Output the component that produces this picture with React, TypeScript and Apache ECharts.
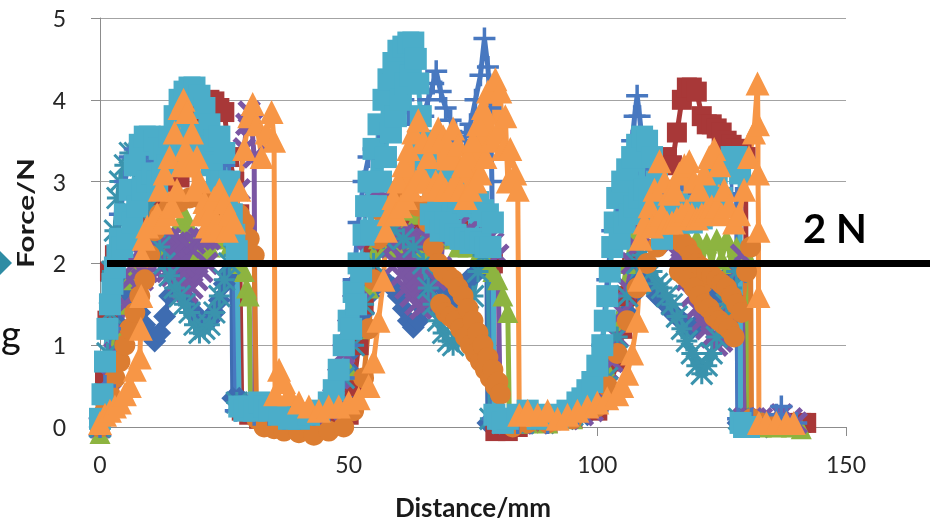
import React, { useEffect, useRef } from "react";
import * as echarts from "echarts";

// ---- axis ticks ----
const X_MIN = 0;
const X_MAX = 150;
const X_STEP = 50;
const Y_MIN = 0;
const Y_MAX = 5;
const Y_STEP = 1;
const REF_FORCE = 2; // the thick reference line "2 N"

// ---- series data: [distance mm, force N] (noisy traces) ----
const blueDiamond: number[][] = [
  [0,0],[1,0.3],[2,0.8],[3,1.3],[4,1.6],[5,1.8],[6,1.75],[7,1.55],[8,1.4],[9,1.25],[10,1.15],[11,1.05],[12,1.15],[13,1.35],[14,1.6],[15,1.8],[16,1.75],[17,1.6],[18,1.5],[19,1.4],[20,1.3],[21,1.25],[22,1.3],[23,1.4],[24,1.55],[25,1.75],[26,1.9],[26.5,1.9],[26.7,0.35],[28,0.35],[29,0.3],[30,0.2],[32,0.15],[35,0.1],[38,0.1],[41,0.1],[44,0.15],[47,0.2],[49,0.4],[50,0.7],[51,0.95],[52,1.2],[53,1.4],[54,1.6],[55,1.7],[56,1.8],[57,1.8],[58,1.75],[59,1.7],[60,1.6],[61,1.45],[62,1.3],[63,1.22],[64,1.3],[65,1.45],[66,1.6],[67,1.75],[68,1.8],[69,1.7],[70,1.6],[71,1.55],[72,1.6],[73,1.7],[74,1.8],[75,1.85],[76,1.9],[77,1.95],[77.8,1.95],[78,0.05],[80,0.0],[83,0.05],[87,0.05],[91,0.05],[95,0.1],[98,0.15],[100,0.25],[101,0.4],[102,0.6],[103,0.8],[104,1.0],[105,1.2],[106,1.4],[107,1.6],[108,1.75],[109,1.8],[110,1.75],[111,1.7],[112,1.6],[113,1.55],[114,1.5],[115,1.4],[116,1.35],[117,1.3],[118,1.25],[119,1.2],[120,1.25],[121,1.3],[122,1.4],[123,1.5],[124,1.6],[125,1.7],[126,1.8],[127,1.9],[128,1.9],[128.3,0.05],[130,0.05],[132,0.05],[134,0.0]
];

const redSquare: number[][] = [
  [0,0],[1,0.6],[1.5,1.3],[2,1.9],[3,2.1],[5,2.3],[7,2.5],[9,2.6],[11,2.8],[13,3.0],[15,3.1],[16,3.05],[17,3.2],[18,3.5],[19,3.7],[20,3.85],[21,3.95],[22,4.0],[23,3.98],[24,3.9],[25,3.85],[26,3.3],[27,3.0],[28,2.6],[28.5,0.2],[30,0.15],[32,0.1],[35,0.05],[38,0.05],[41,0.05],[44,0.1],[47,0.1],[50,0.15],[51,0.5],[52,1.0],[53,1.5],[54,1.9],[55,2.2],[56,2.35],[58,2.4],[60,2.45],[62,2.4],[64,2.35],[66,2.3],[68,2.4],[70,2.35],[72,2.4],[74,2.3],[76,2.2],[78,2.1],[79,2.0],[79.5,-0.05],[82,-0.05],[84,0.0],[86,0.05],[90,0.05],[95,0.1],[100,0.2],[102,0.4],[104,0.8],[105,1.2],[106,1.6],[107,2.0],[108,2.3],[109,2.5],[110,2.6],[112,2.7],[113,2.9],[114,3.3],[115,3.2],[116,3.6],[117,4.0],[118,4.15],[119,4.15],[120,4.1],[121,3.8],[122,3.7],[123,3.7],[124,3.65],[125,3.6],[126,3.5],[127,3.45],[128,3.4],[129,3.4],[129.8,3.3],[130,0.1],[132,0.05],[135,0.05],[138,0.05],[141,0.05],[142,0.05]
];

const greenTriangle: number[][] = [
  [0,-0.08],[1,0.3],[2,0.8],[3,1.2],[4,1.5],[6,1.8],[8,2.0],[10,2.1],[12,2.2],[14,2.3],[16,2.5],[17,2.6],[18,2.45],[19,2.3],[20,2.15],[21,2.1],[22,2.2],[23,2.3],[24,2.4],[25,2.3],[26,2.2],[27,2.1],[28,2.0],[29,1.9],[29.5,1.7],[30,1.6],[30.3,0.2],[32,0.15],[35,0.1],[40,0.05],[45,0.1],[48,0.3],[50,0.7],[52,1.2],[54,1.7],[55,2.1],[56,2.3],[57,2.4],[57.5,2.2],[58,2.5],[59,2.25],[60,2.55],[61,2.3],[62,2.65],[63,2.3],[64,2.6],[65,2.2],[66,2.4],[67,2.15],[68,2.3],[70,2.3],[72,2.2],[74,2.2],[76,2.1],[78,2.0],[79,1.9],[80,1.8],[81,1.6],[82,1.4],[82.3,0.1],[84,0.05],[86,0.05],[90,0.05],[95,0.1],[100,0.3],[102,0.7],[104,1.3],[106,2.0],[107,2.4],[108,2.6],[109,2.7],[110,2.6],[112,2.5],[114,2.4],[116,2.35],[117,2.05],[118,2.3],[119,2.05],[120,2.3],[121,2.0],[122,2.25],[123,2.0],[124,2.3],[125,2.05],[126,2.3],[127,2.0],[128,2.2],[130,2.1],[130.5,0.0],[133,0.0],[136,0.0],[139,0.0],[141,-0.02]
];

const purpleX: number[][] = [
  [0,0],[1,0.3],[2,0.6],[3,0.9],[4,1.2],[5,1.5],[6,1.8],[7,2.0],[8,2.15],[8.5,1.8],[9,2.25],[9.5,1.9],[10,2.3],[10.5,1.95],[11,2.3],[11.5,2.0],[12,2.3],[12.5,1.95],[13,2.3],[13.5,1.9],[14,2.3],[14.5,1.85],[15,2.25],[15.5,1.8],[16,2.25],[16.5,1.7],[17,2.25],[17.5,1.65],[18,2.2],[18.5,1.7],[19,2.25],[19.5,1.8],[20,2.3],[20.5,1.9],[21,2.3],[21.5,2.0],[22,2.3],[23,2.4],[24,2.45],[25,2.5],[26,2.4],[27,2.5],[28,2.9],[29,3.4],[29.5,3.7],[30,3.85],[30.5,3.7],[31,3.3],[31.2,0.2],[32,0.15],[34,0.1],[37,0.1],[40,0.1],[43,0.15],[46,0.2],[47,0.35],[48,0.6],[49,0.9],[50,1.2],[51,1.5],[52,1.7],[53,1.9],[54,2.3],[55,2.7],[56,2.9],[57,2.8],[58,2.6],[58.5,2.2],[59,2.4],[59.5,2.0],[60,2.35],[60.5,1.85],[61,2.35],[61.5,1.7],[62,2.3],[62.5,1.6],[63,2.3],[63.5,1.5],[64,2.25],[64.5,1.45],[65,2.25],[65.5,1.5],[66,2.3],[66.5,1.65],[67,2.3],[67.5,1.8],[68,2.35],[68.5,1.95],[69,2.35],[70,2.35],[72,2.45],[74,2.4],[76,2.35],[78,2.3],[79,2.25],[80,2.1],[80.5,0.1],[82,0.05],[85,0.05],[88,0.05],[91,0.1],[94,0.1],[97,0.15],[99,0.2],[100,0.3],[101,0.4],[102,0.5],[103,0.8],[104,1.1],[105,1.4],[106,1.7],[107,2.0],[108,2.2],[109,2.35],[110,2.5],[111,2.6],[112,2.55],[113,2.5],[114,2.4],[115,2.25],[116,2.1],[117,2.0],[118,1.8],[119,1.6],[120,1.45],[121,1.3],[122,1.2],[123,1.1],[124,1.0],[125,1.05],[126,1.2],[127,1.5],[128,1.9],[129,2.1],[129.5,0.1],[131,0.1],[133,0.1],[135,0.1],[137,0.15],[139,0.1],[140,0.05]
];

const tealStar: number[][] = [
  [0,0],[1,0.4],[1.5,0.9],[2,1.4],[2.5,1.9],[3,2.4],[3.5,2.8],[4,3.0],[5,3.2],[6,3.35],[7,3.35],[8,3.2],[9,3.0],[10,2.7],[11,2.45],[12,2.2],[13,2.0],[14,1.85],[15,1.7],[16,1.6],[17,1.5],[18,1.4],[19,1.25],[20,1.15],[21,1.2],[22,1.25],[23,1.4],[24,1.6],[25,1.8],[26,2.0],[27,2.1],[27.5,0.3],[29,0.25],[31,0.2],[33,0.2],[36,0.15],[40,0.15],[44,0.2],[47,0.3],[49,0.6],[51,1.0],[53,1.5],[55,2.0],[57,2.3],[59,2.4],[61,2.3],[63,2.2],[65,2.0],[66,1.7],[67,1.5],[68,1.3],[69,1.15],[70,1.05],[71,1.0],[72,1.05],[73,1.15],[74,1.35],[75,1.6],[76,1.9],[77,2.1],[78,2.2],[78.5,0.1],[81,0.05],[85,0.05],[90,0.1],[95,0.15],[100,0.3],[102,0.6],[104,1.1],[106,1.6],[108,2.0],[109,2.1],[110,2.0],[111,1.9],[112,1.75],[113,1.7],[114,1.6],[115,1.5],[116,1.35],[117,1.2],[118,1.05],[119,0.9],[120,0.75],[121,0.65],[122,0.75],[123,0.9],[124,1.1],[125,1.3],[126,1.5],[127,1.7],[128,1.9],[128.5,0.1],[131,0.05],[134,0.05]
];

const orangeCircle: number[][] = [
  [0,0],[1,0.2],[2,0.4],[3,0.6],[4,0.8],[5,1.0],[6,1.2],[7,1.4],[8,1.6],[9,1.8],[10,2.1],[11,2.4],[12,2.6],[14,2.7],[16,2.75],[18,2.8],[20,2.8],[22,2.75],[24,2.7],[26,2.65],[28,2.6],[29,2.5],[30,2.3],[31,2.1],[31.5,0.1],[33,0.0],[35,-0.02],[37,-0.05],[40,-0.07],[43,-0.1],[46,-0.05],[49,0.0],[51,0.2],[53,0.6],[54,1.2],[55,1.8],[56,2.3],[57,2.6],[58,2.7],[60,2.75],[62,2.8],[64,2.7],[66,2.5],[67,2.2],[68,2.0],[68.5,1.5],[69,1.9],[69.5,1.4],[70,1.85],[70.5,1.35],[71,1.8],[71.5,1.3],[72,1.7],[72.5,1.2],[73,1.6],[73.5,1.1],[74,1.45],[74.5,1.0],[75,1.3],[75.5,0.9],[76,1.15],[76.5,0.8],[77,1.0],[77.5,0.7],[78,0.85],[78.5,0.6],[79,0.7],[79.5,0.5],[80,0.55],[80.5,0.4],[81,0.1],[83,0.0],[86,0.05],[90,0.05],[95,0.1],[100,0.25],[102,0.5],[104,0.9],[106,1.3],[108,1.7],[110,2.0],[112,2.2],[114,2.3],[116,2.3],[116.5,1.9],[117,2.25],[117.5,1.85],[118,2.2],[118.5,1.8],[119,2.1],[119.5,1.7],[120,2.0],[120.5,1.6],[121,1.95],[121.5,1.5],[122,1.9],[122.5,1.45],[123,1.85],[123.5,1.35],[124,1.8],[124.5,1.3],[125,1.75],[125.5,1.25],[126,1.7],[126.5,1.2],[127,1.6],[127.5,1.1],[128,1.5],[129,1.4],[130,1.9],[130.8,2.2],[131,0.1],[133,0.05],[136,0.05]
];

const bluePlus: number[][] = [
  [0,0],[1,0.5],[2,1.2],[3,2.0],[4,2.6],[5,3.0],[6,3.3],[7,3.4],[8,3.45],[9,3.4],[10,3.3],[11,3.25],[12,3.2],[13,3.2],[14,3.3],[15,3.4],[16,3.5],[17,3.6],[18,3.6],[19,3.55],[20,3.5],[21,3.45],[22,3.4],[23,3.35],[24,3.3],[25,3.2],[26,3.1],[27,2.8],[27.3,0.2],[29,0.2],[31,0.15],[34,0.15],[37,0.1],[40,0.1],[43,0.15],[46,0.2],[48,0.3],[49,0.6],[50,1.0],[51,1.8],[52,2.5],[53,3.0],[54,3.3],[55,3.4],[56,3.5],[57,3.6],[58,3.7],[59,3.8],[60,3.9],[61,4.0],[62,3.85],[63,3.7],[64,3.6],[65,3.8],[66,4.0],[67,4.2],[67.6,4.35],[68.5,4.1],[69.5,3.9],[70.5,3.75],[71.5,3.6],[72.5,3.5],[73.5,3.55],[74.5,3.7],[75.5,4.0],[76.5,4.3],[77.3,4.75],[78,4.4],[78.5,3.9],[78.8,3.0],[79,0.1],[81,0.05],[84,0.05],[87,0.1],[90,0.05],[93,0.1],[96,0.15],[98,0.2],[100,0.3],[101,1.0],[102,1.8],[103,2.4],[104,2.6],[105,2.8],[106,3.1],[107,3.5],[107.5,3.8],[108,4.05],[108.5,3.8],[109,3.5],[110,3.2],[111,3.0],[112,2.9],[113,2.85],[115,2.8],[117,2.85],[119,2.8],[121,2.85],[123,2.9],[125,2.9],[127,2.85],[128,2.8],[128.3,0.1],[131,0.1],[134,0.05],[136,0.15],[137,0.25],[138,0.1],[140,0.05]
];

const cyanSquare: number[][] = [
  [0,0.1],[0.5,0.4],[1,0.8],[1.5,1.2],[2,1.5],[2.5,1.75],[3,1.95],[3.5,2.1],[4,2.3],[4.5,2.2],[5,2.6],[5.5,2.3],[6,2.9],[6.5,2.5],[7,3.2],[7.5,2.7],[8,3.45],[8.5,2.9],[9,3.55],[9.5,3.0],[10,3.55],[10.5,3.1],[11,3.5],[11.5,3.0],[12,3.4],[12.5,3.1],[13,3.35],[13.5,3.2],[14,3.55],[14.5,3.2],[15,3.8],[15.5,3.3],[16,4.0],[16.5,3.4],[17,4.1],[17.5,3.5],[18,4.15],[18.5,3.6],[19,4.15],[19.5,3.5],[20,4.05],[20.5,3.4],[21,3.9],[21.5,3.3],[22,3.7],[22.5,3.2],[23,3.5],[23.5,3.0],[24,3.55],[24.5,3.0],[25,3.35],[25.5,2.8],[26,3.0],[26.5,2.6],[27,2.35],[27.5,2.15],[28,0.25],[29,0.2],[30,0.25],[31,0.2],[32,0.3],[33,0.25],[34,0.2],[36,0.15],[38,0.1],[40,0.1],[42,0.15],[44,0.2],[46,0.3],[47,0.45],[48,0.7],[49,1.0],[50,1.3],[50.5,1.2],[51,1.65],[51.5,1.5],[52,2.0],[52.5,1.9],[53,2.35],[53.5,2.7],[54,3.0],[54.5,2.4],[55,3.4],[55.5,2.7],[56,3.7],[56.5,3.0],[57,4.0],[57.5,3.3],[58,4.25],[58.5,3.6],[59,4.45],[59.5,3.8],[60,4.6],[60.5,4.0],[61,4.65],[61.5,4.2],[62,4.7],[62.5,4.3],[63,4.7],[63.5,4.5],[64,4.2],[64.5,3.8],[65,3.5],[65.5,3.2],[66,3.0],[66.5,2.6],[67,2.9],[67.5,2.5],[68,2.85],[68.5,2.4],[69,2.95],[69.5,2.5],[70,3.0],[70.5,2.4],[71,2.85],[71.5,2.35],[72,2.8],[72.5,2.3],[73,2.75],[73.5,2.3],[74,2.7],[74.5,2.25],[75,2.7],[75.5,2.3],[76,2.75],[76.5,2.25],[77,2.65],[77.5,2.2],[78,2.6],[78.5,2.2],[79,2.5],[79.3,0.15],[80,0.1],[81,0.05],[82,0.1],[84,0.15],[86,0.2],[88,0.1],[90,0.15],[92,0.1],[94,0.2],[96,0.3],[97,0.35],[98,0.45],[99,0.55],[100,0.75],[101,1.0],[101.5,1.3],[102,1.6],[102.5,1.9],[103,2.2],[103.5,2.5],[104,2.8],[104.5,2.3],[105,3.0],[105.5,2.5],[106,3.15],[106.5,2.6],[107,3.3],[107.5,2.7],[108,3.45],[108.5,2.8],[109,3.55],[109.5,2.9],[110,3.5],[110.5,2.8],[111,3.3],[111.5,2.7],[112,3.0],[112.5,2.6],[113,2.3],[114,2.6],[115,2.5],[116,2.75],[117,2.5],[118,2.6],[119,2.5],[120,2.7],[121,2.55],[122,2.9],[123,2.65],[124,3.1],[125,2.8],[126,3.2],[127,3.3],[128,3.3],[128.7,3.1],[128.8,0.05],[129.5,0.0],[130.5,0.0]
];

const orangeTriangle: number[][] = [
  [0,0.05],[1,0.15],[2,0.2],[3,0.25],[4,0.3],[5,0.4],[6,0.5],[7,0.7],[8,0.85],[8.2,1.2],[8.3,1.6],[8.4,2.1],[8.8,2.3],[9.5,2.45],[10.5,2.5],[11.5,2.6],[12,2.9],[12.5,2.5],[13,3.1],[13.5,2.6],[14,3.3],[14.5,2.7],[15,3.6],[15.5,2.9],[16,3.9],[16.5,3.2],[16.8,4.0],[17.2,3.4],[17.5,3.85],[18,3.2],[18.5,3.6],[19,2.9],[19.5,3.3],[20,3.0],[20.5,2.6],[21,2.75],[21.5,2.45],[22,2.6],[22.5,2.4],[23,2.8],[23.5,2.5],[24,2.9],[24.5,2.5],[25,2.75],[25.5,2.4],[26,2.6],[27,2.5],[28,2.9],[29,3.4],[30,3.8],[30.7,3.95],[31.5,3.7],[32.5,3.3],[33.5,3.6],[34.5,3.85],[35,3.5],[35.2,0.4],[36,0.7],[37,0.55],[38,0.4],[40,0.3],[42,0.25],[44,0.2],[46,0.25],[48,0.25],[50,0.3],[52,0.35],[54,0.5],[55,0.8],[56,1.3],[57,1.8],[57.5,2.4],[58,2.6],[59,2.8],[59.5,2.6],[60,3.0],[60.5,2.7],[61,3.2],[61.5,2.8],[62,3.4],[62.5,2.9],[63,3.6],[63.5,3.0],[64,3.75],[64.5,3.1],[65,3.5],[65.5,3.0],[66,3.3],[66.5,2.9],[67,3.5],[67.5,3.0],[68,3.65],[68.5,3.0],[69,3.55],[69.5,2.9],[70,3.4],[70.5,2.9],[71,3.65],[71.5,3.0],[72,3.45],[72.5,2.9],[73,3.2],[73.5,2.8],[74,3.3],[74.5,2.9],[75,3.5],[75.5,3.0],[76,3.7],[76.5,3.1],[77,3.9],[77.5,3.3],[78,4.1],[78.7,3.5],[79.5,4.25],[80,3.6],[80.5,4.1],[81,3.4],[81.5,3.8],[82,3.0],[82.5,3.4],[83.5,3.1],[84,2.9],[84.3,0.15],[86,0.2],[88,0.15],[90,0.2],[92,0.1],[94,0.15],[96,0.2],[98,0.25],[100,0.3],[102,0.35],[104,0.4],[105,0.5],[106,0.65],[107,0.9],[108,1.3],[108.5,1.8],[108.7,2.3],[109.5,2.5],[110.5,2.7],[111,2.45],[111.5,2.9],[112,2.5],[112.5,3.25],[113,2.6],[113.5,3.0],[114,2.5],[114.5,2.85],[115,2.5],[115.5,2.9],[116,2.55],[116.5,3.1],[117,2.6],[117.5,3.2],[118,2.65],[118.5,3.25],[119,2.6],[119.5,3.0],[120,2.55],[120.5,2.9],[121,2.6],[121.5,3.1],[122,2.65],[122.5,3.3],[123,2.7],[123.5,3.4],[124,2.7],[124.5,3.2],[125,2.6],[125.5,2.9],[126.5,2.7],[127.5,2.5],[128.5,2.6],[129.5,2.9],[130.5,3.3],[131.5,3.6],[132.2,4.2],[132.3,3.7],[132.3,3.1],[132.4,2.4],[132.4,1.6],[132.5,0.05],[134,0.05],[136,0.05],[138,0.05],[139.5,0.05]
];

const SYM_X = "path://M0,0L10,10M10,0L0,10";
const SYM_STAR = "path://M5,0L5,10M0,0L10,10M10,0L0,10M0,5L10,5";
const SYM_PLUS = "path://M5,0L5,10M0,5L10,5";

const seriesDefs = [
  { name: "1", data: blueDiamond, color: "#3E6CB1", symbol: "diamond", size: 23, stroke: 0 },
  { name: "2", data: redSquare, color: "#A83838", symbol: "rect", size: 20, stroke: 0 },
  { name: "3", data: greenTriangle, color: "#8DB440", symbol: "triangle", size: 21, stroke: 0 },
  { name: "4", data: purpleX, color: "#7A56A3", symbol: SYM_X, size: 20, stroke: 5 },
  { name: "5", data: tealStar, color: "#3A93AD", symbol: SYM_STAR, size: 21, stroke: 3 },
  { name: "6", data: orangeCircle, color: "#DC7D31", symbol: "circle", size: 21, stroke: 0 },
  { name: "7", data: bluePlus, color: "#4878C0", symbol: SYM_PLUS, size: 22, stroke: 3.5 },
  { name: "8", data: cyanSquare, color: "#4BADC9", symbol: "rect", size: 22, stroke: 0 },
  { name: "9", data: orangeTriangle, color: "#F79646", symbol: "triangle", size: 24, stroke: 0 },
];

const FONT = "Lato, 'Open Sans', sans-serif";

export default function App() {
  const ref = useRef<HTMLDivElement>(null);
  useEffect(() => {
    if (!ref.current) return;
    const chart = echarts.init(ref.current, null, { renderer: "svg" });
    const option: any = {
      animation: false,
      grid: { left: 100, top: 18, width: 746, height: 409 },
      xAxis: {
        type: "value",
        min: X_MIN,
        max: X_MAX,
        interval: X_STEP,
        axisLine: { show: true, lineStyle: { color: "#8c8c8c", width: 1 } },
        axisTick: { show: true, length: 9, lineStyle: { color: "#8c8c8c" } },
        axisLabel: { fontSize: 23, fontFamily: FONT, color: "#262626", margin: 25 },
        splitLine: { show: false },
      },
      yAxis: {
        type: "value",
        min: Y_MIN,
        max: Y_MAX,
        interval: Y_STEP,
        axisLine: { show: true, lineStyle: { color: "#8c8c8c", width: 1 } },
        axisTick: { show: true, length: 9, lineStyle: { color: "#8c8c8c" } },
        axisLabel: { fontSize: 23, fontFamily: FONT, color: "#262626", margin: 34 },
        splitLine: { show: true, lineStyle: { color: "#a3a3a3", width: 1 } },
      },
      series: seriesDefs.map((s) => ({
        type: "line",
        name: s.name,
        data: s.data,
        symbol: s.symbol,
        symbolSize: s.size,
        showSymbol: true,
        showAllSymbol: true,
        clip: false,
        silent: true,
        lineStyle: { color: s.color, width: 5 },
        itemStyle: {
          color: s.color,
          borderColor: s.color,
          borderWidth: s.stroke,
        },
        emphasis: { disabled: true },
      })),
    };
    chart.setOption(option);
    const yRef = chart.convertToPixel({ yAxisIndex: 0 }, REF_FORCE) as number;
    chart.setOption({
      graphic: [
        {
          type: "line",
          z: 100,
          shape: { x1: 107, y1: yRef, x2: 930, y2: yRef },
          style: { stroke: "#000", lineWidth: 7 },
        },
        {
          type: "text",
          z: 100,
          x: 803,
          y: 228,
          style: {
            text: "2 N",
            font: `bold 40px ${FONT}`,
            fill: "#000",
            textAlign: "left",
            textVerticalAlign: "middle",
          },
        },
        {
          type: "text",
          z: 100,
          x: 473,
          y: 507,
          style: {
            text: "Distance/mm",
            font: `bold 26px ${FONT}`,
            fill: "#1a1a1a",
            textAlign: "center",
            textVerticalAlign: "middle",
          },
        },
        {
          type: "text",
          z: 100,
          x: 26,
          y: 213,
          rotation: Math.PI / 2,
          scaleX: 1.35,
          style: {
            text: "Force/N",
            font: `bold 22px ${FONT}`,
            fill: "#1a1a1a",
            textAlign: "center",
            textVerticalAlign: "middle",
          },
        },
        {
          type: "text",
          z: 100,
          x: 1,
          y: 352,
          style: {
            text: "g",
            font: `38px ${FONT}`,
            fill: "#111",
            textAlign: "left",
            textVerticalAlign: "bottom",
          },
        },
        {
          type: "polygon",
          z: 100,
          shape: { points: [[12, 263], [-6, 245], [-24, 263], [-6, 281]] },
          style: { fill: "#2E8CA4" },
        },
      ],
    });
    return () => chart.dispose();
  }, []);
  return (
    <div
      ref={ref}
      style={{ position: "fixed", left: 0, top: 0, width: 935, height: 522 }}
    />
  );
}
